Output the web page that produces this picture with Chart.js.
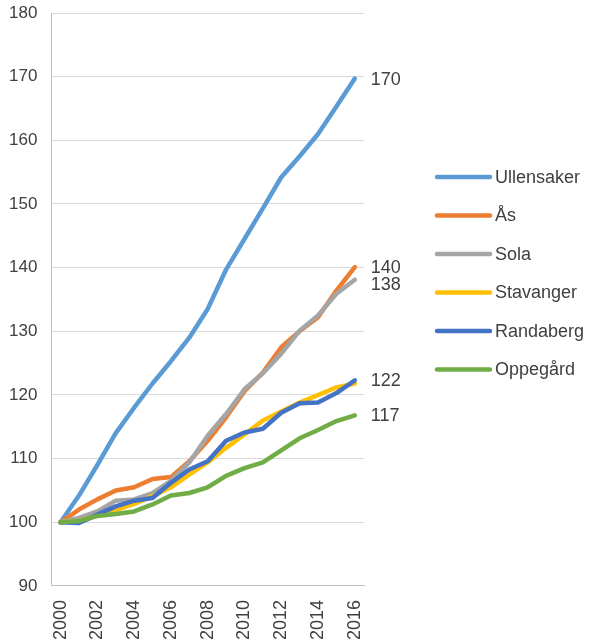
<!DOCTYPE html>
<html>
<head>
<meta charset="utf-8">
<script src="https://cdn.jsdelivr.net/npm/chart.js@4.4.1/dist/chart.umd.min.js"></script>
<style>
  html, body { margin: 0; padding: 0; background: #fff; }
  #wrap { width: 590px; height: 644px; position: relative; }
</style>
</head>
<body>
<div id="wrap"><canvas id="chart"></canvas></div>
<script>
const years = ['2000','2001','2002','2003','2004','2005','2006','2007','2008',
               '2009','2010','2011','2012','2013','2014','2015','2016'];

const seriesNames = ['Ullensaker', 'Ås', 'Sola', 'Stavanger', 'Randaberg', 'Oppegård'];

const ullensaker = [100, 104.2, 109, 114, 118, 121.8, 125.3, 129, 133.5, 139.7, 144.5, 149.3, 154.2, 157.5, 161, 165.3, 169.7];
const aas        = [100, 102, 103.6, 105, 105.5, 106.8, 107.1, 109.6, 112.8, 116.5, 120.6, 123.5, 127.5, 130, 132.2, 136.4, 140.1];
const sola       = [100, 100.7, 101.7, 103.4, 103.6, 104.6, 106.5, 109.4, 113.6, 117, 120.9, 123.4, 126.5, 130.1, 132.5, 135.9, 138.1];
const stavanger  = [100, 100.2, 101, 101.9, 102.9, 104.1, 105.5, 107.5, 109.4, 111.7, 113.8, 116, 117.4, 118.8, 120, 121.2, 121.8];
const randaberg  = [100, 99.9, 101.2, 102.5, 103.4, 103.8, 106.2, 108.3, 109.6, 112.8, 114.1, 114.7, 117.2, 118.7, 118.8, 120.3, 122.3];
const oppegard   = [100, 100.2, 101, 101.3, 101.7, 102.8, 104.2, 104.6, 105.5, 107.3, 108.5, 109.4, 111.3, 113.2, 114.5, 115.9, 116.8];

// text shown at the end of each line (none for Stavanger)
const endLabels = ['170', '140', '138', null, '122', '117'];

const colors = ['#5B9BD5', '#ED7D31', '#A5A5A5', '#FFC000', '#4472C4', '#70AD47'];
const allSeries = [ullensaker, aas, sola, stavanger, randaberg, oppegard];

const textColor = '#404040';
const fontFamily = '"Liberation Sans", Arial, sans-serif';

// end-of-line value labels + legend on the right
const extrasPlugin = {
    id: 'extras',
    afterDatasetsDraw(chart) {
        const ctx = chart.ctx;
        ctx.save();
        ctx.font = '18px ' + fontFamily;
        ctx.fillStyle = textColor;
        ctx.textBaseline = 'middle';
        ctx.textAlign = 'left';
        chart.data.datasets.forEach((ds, i) => {
            if (!endLabels[i]) return;
            const meta = chart.getDatasetMeta(i);
            const last = meta.data[meta.data.length - 1];
            let y = last.y + 1;
            if (i === 2) y += 4; // Sola label sits just under Ås
            ctx.fillText(endLabels[i], last.x + 16, y);
        });

        // legend
        const lx = 437, ly = 177, step = 38.5;
        seriesNames.forEach((name, i) => {
            const y = ly + i * step;
            ctx.strokeStyle = colors[i];
            ctx.lineWidth = 4.5;
            ctx.lineCap = 'round';
            ctx.beginPath();
            ctx.moveTo(lx, y);
            ctx.lineTo(lx + 53, y);
            ctx.stroke();
            ctx.fillText(name, lx + 58, y + 1);
        });
        ctx.restore();
    }
};

new Chart(document.getElementById('chart'), {
    type: 'line',
    data: {
        labels: years,
        datasets: allSeries.map((vals, i) => ({
            label: seriesNames[i],
            data: vals,
            borderColor: colors[i],
            backgroundColor: colors[i],
            borderWidth: 4.5,
            pointRadius: 0,
            tension: 0,
            fill: false,
            borderCapStyle: 'round',
            borderJoinStyle: 'round',
            order: allSeries.length - i
        }))
    },
    options: {
        responsive: true,
        maintainAspectRatio: false,
        animation: false,
        layout: { padding: { left: 9, right: 226, top: 13, bottom: -10 } },
        plugins: {
            legend: { display: false },
            tooltip: { enabled: false }
        },
        scales: {
            x: {
                offset: true,
                grid: { display: false, drawTicks: false },
                border: { display: true, color: '#BFBFBF', width: 1 },
                ticks: {
                    autoSkip: false,
                    minRotation: 90,
                    maxRotation: 90,
                    padding: 14,
                    color: textColor,
                    font: { family: fontFamily, size: 18 },
                    callback: (v, i) => (i % 2 === 0 ? years[i] : '')
                }
            },
            y: {
                min: 90,
                max: 180,
                grid: { color: '#D9D9D9', lineWidth: 1, drawTicks: true, tickLength: 14, tickColor: 'rgba(0,0,0,0)' },
                border: { display: true, color: '#BFBFBF', width: 1 },
                ticks: {
                    stepSize: 10,
                    padding: 0,
                    color: textColor,
                    font: { family: fontFamily, size: 17 }
                }
            }
        }
    },
    plugins: [extrasPlugin]
});
</script>
</body>
</html>
